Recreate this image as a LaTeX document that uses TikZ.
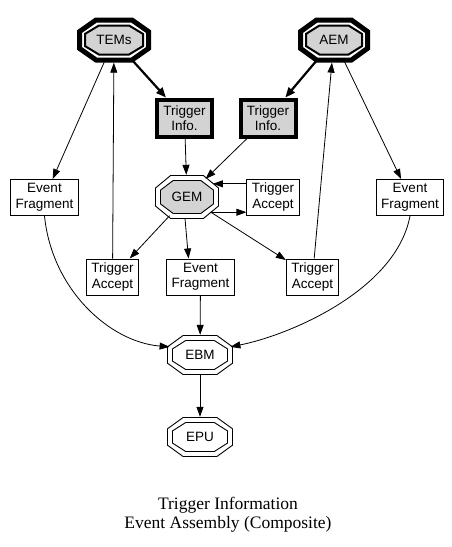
\documentclass[tikz,border=0pt]{standalone}
\usepackage{fontspec}
\setmainfont{Liberation Sans}
\newfontfamily\titlefont{Liberation Serif}
\usetikzlibrary{arrows.meta,shapes.geometric,backgrounds}
\definecolor{lg}{HTML}{D3D3D3}
% octagon: #1 node, #2 half width, #3 half height, #4 style
\newcommand\octo[4]{%
  \draw[#4, shift={(#1.center)}]
    (-#2,-0.42*#3) -- (-#2,0.42*#3) -- (-0.52*#2,#3) -- (0.52*#2,#3) --
    (#2,0.42*#3) -- (#2,-0.42*#3) -- (0.52*#2,-#3) -- (-0.52*#2,-#3) -- cycle;}
\tikzset{
  lbl/.style={font=\fontsize{13.5}{15.5}\selectfont},
  octn/.style={lbl, ellipse, inner sep=0pt, draw=none},
  box/.style={lbl, draw, line width=1pt, inner xsep=5pt, inner ysep=0pt,
    minimum height=36pt, align=center},
  infobox/.style={lbl, draw, line width=4pt, fill=lg, inner sep=0pt,
    minimum width=55pt, minimum height=37pt, align=center},
  arr/.style={line width=0.8pt, -{Triangle[length=10pt,width=7pt]}},
  barr/.style={line width=2.2pt, -{Triangle[length=10pt,width=8pt]}},
}
\begin{document}
\begin{tikzpicture}[x=1pt,y=-1pt]
\useasboundingbox (0,0) rectangle (452,547);
% octagon nodes
\node[octn, minimum width=74pt, minimum height=45pt] (tems) at (114,40) {TEMs};
\node[octn, minimum width=72pt, minimum height=45pt] (aem) at (334,40) {AEM};
\node[octn, minimum width=64pt, minimum height=44pt] (gem) at (187,197) {GEM};
\node[octn, minimum width=66pt, minimum height=40pt] (ebm) at (200,355) {EBM};
\node[octn, minimum width=66pt, minimum height=40pt] (epu) at (200,437) {EPU};
\begin{pgfonlayer}{background}
  \fill[white] (0,0) rectangle (452,547);
  \octo{tems}{34.5}{20}{line width=5pt}
  \octo{tems}{29}{14.5}{line width=2pt, fill=lg}
  \octo{aem}{33.5}{20}{line width=5pt}
  \octo{aem}{28}{14.5}{line width=2pt, fill=lg}
  \octo{gem}{31.5}{21.5}{line width=0.9pt}
  \octo{gem}{26.5}{16.5}{line width=0.9pt, fill=lg}
  \octo{ebm}{32.5}{19.5}{line width=0.9pt}
  \octo{ebm}{27.5}{14.5}{line width=0.9pt}
  \octo{epu}{32.5}{19.5}{line width=0.9pt}
  \octo{epu}{27.5}{14.5}{line width=0.9pt}
\end{pgfonlayer}
% boxes
\node[infobox] (tinfoL) at (184.5,118) {Trigger\\Info.};
\node[infobox] (tinfoR) at (268,118) {Trigger\\Info.};
\node[box] (efL) at (44.5,197.5) {Event\\Fragment};
\node[box] (efR) at (410,197.5) {Event\\Fragment};
\node[box] (taG) at (273,197) {Trigger\\Accept};
\node[box] (taL) at (112.5,277) {Trigger\\Accept};
\node[box] (efM) at (200.5,277) {Event\\Fragment};
\node[box] (taR) at (312.5,277) {Trigger\\Accept};
% title
\node[font=\titlefont\fontsize{17.5}{19}\selectfont, align=center] (title) at (228,515)
  {Trigger Information\\Event Assembly (Composite)};
% edges
\draw[barr] (tems) -- (tinfoL);
\draw[barr] (aem) -- (tinfoR);
\draw[arr] (tems) -- (efL);
\draw[arr] (taL) -- (tems);
\draw[arr] (aem) -- (efR);
\draw[arr] (taR) -- (aem);
\draw[arr] (tinfoL) -- (gem);
\draw[arr] (tinfoR) -- (gem);
\draw[arr] (taG.west |- gem.27) -- (gem.27);
\draw[arr] (gem.-33) -- (taG.west |- gem.-33);
\draw[arr] (gem) -- (taL);
\draw[arr] (gem.-95) -- ([xshift=-12pt]efM.north);
\draw[arr] (gem) -- (taR);
\draw[arr] (efL.south) .. controls (52,290) and (110,342) .. (ebm.165);
\draw[arr] (efR.south) .. controls (396,290) and (290,335) .. (ebm.15);
\draw[arr] (efM) -- (ebm);
\draw[arr] (ebm) -- (epu);
\end{tikzpicture}
\end{document}
